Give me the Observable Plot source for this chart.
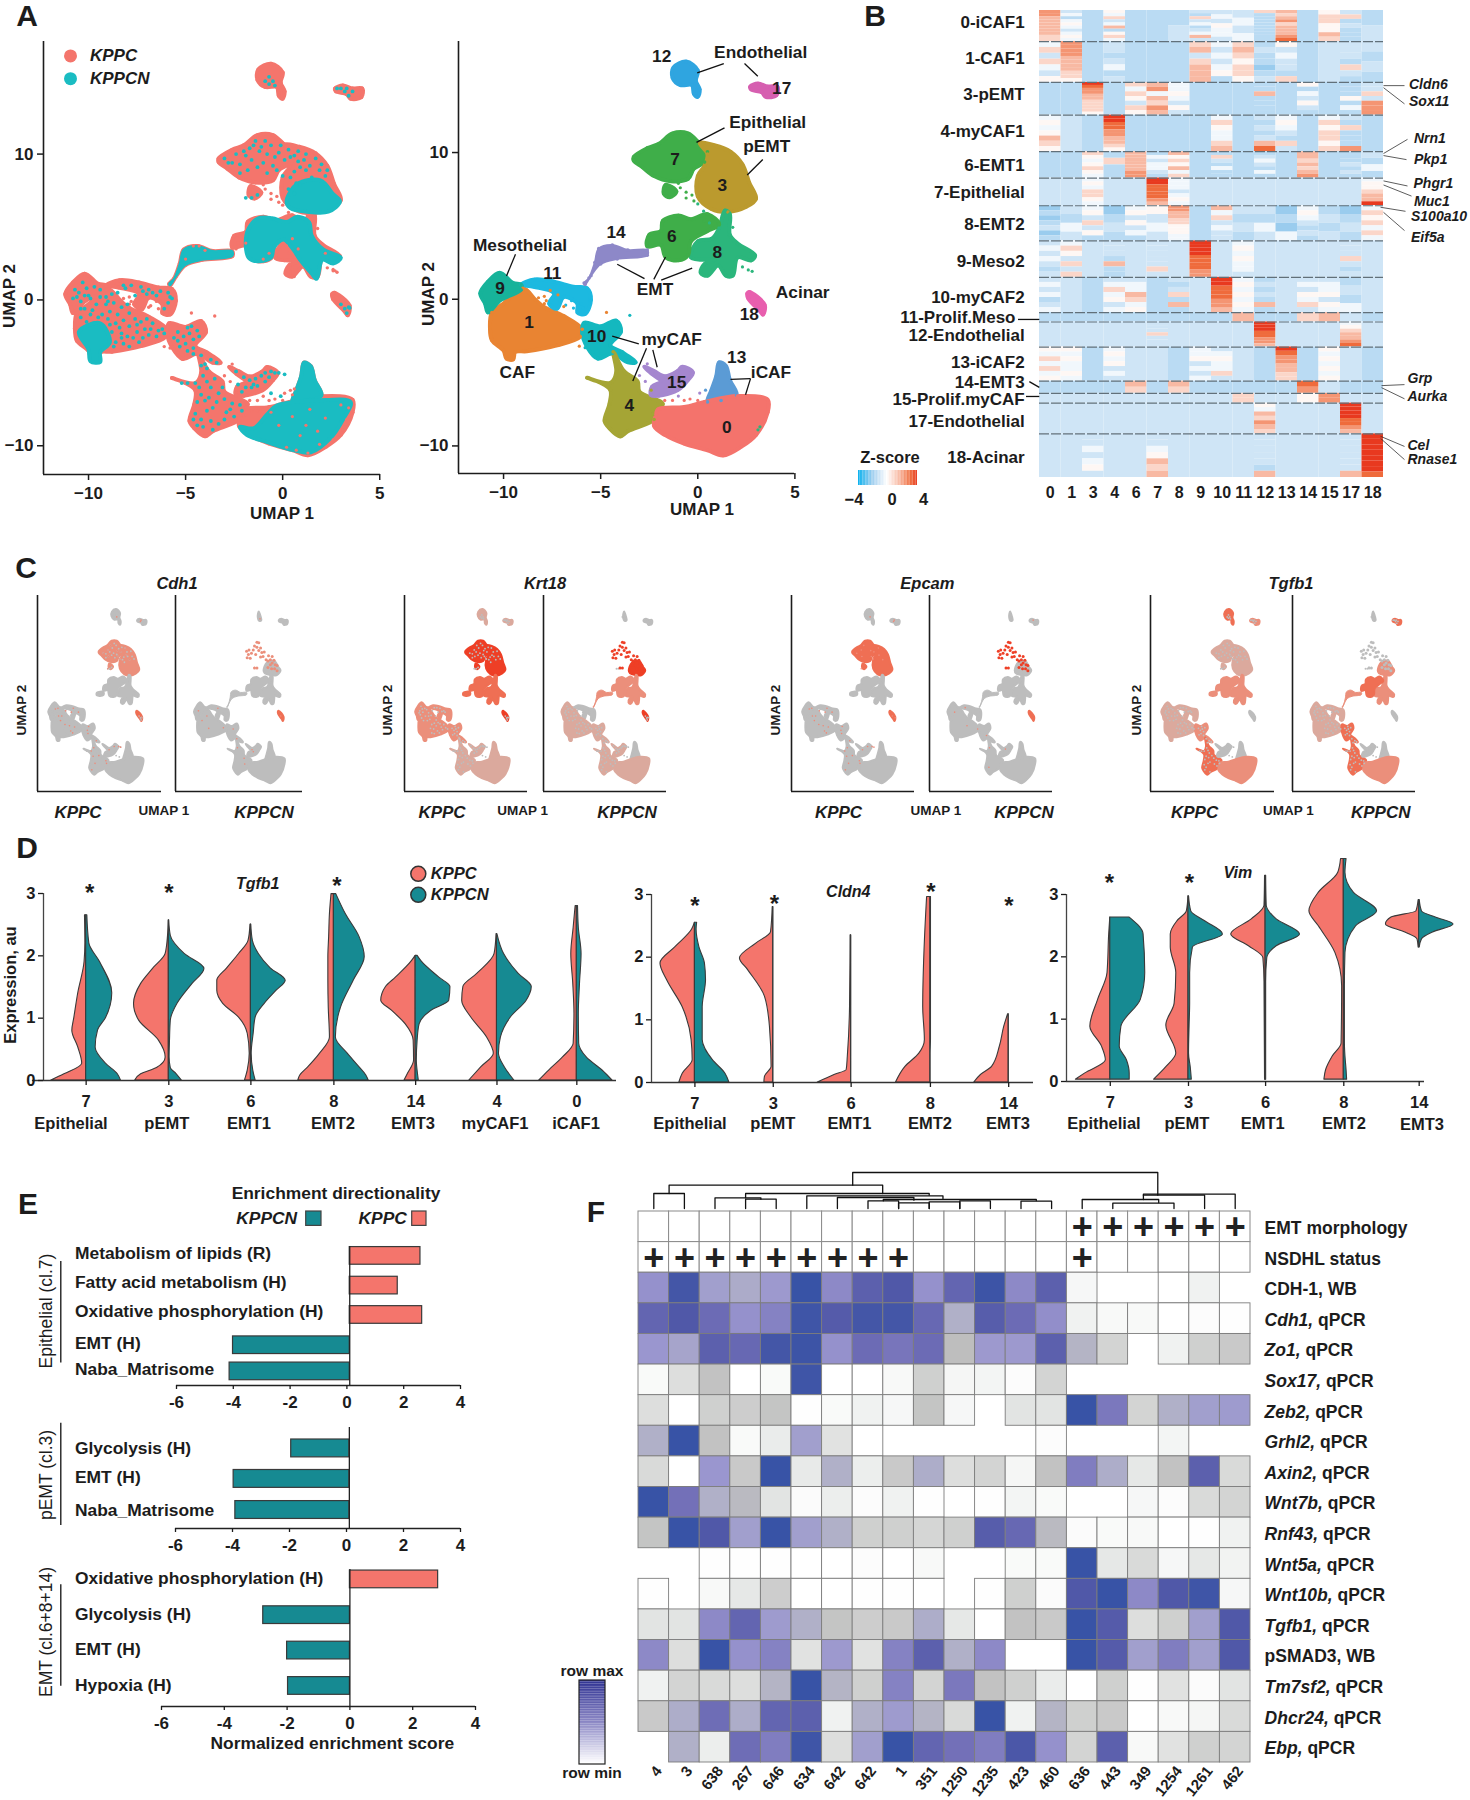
<!DOCTYPE html>
<html><head><meta charset="utf-8">
<script src="https://cdn.jsdelivr.net/npm/d3@7"></script>
<script src="https://cdn.jsdelivr.net/npm/@observablehq/plot@0.6"></script>
<style>
html,body{margin:0;padding:0;background:#fff}
#root{position:relative;width:1470px;height:1800px;overflow:hidden;font-family:"Liberation Sans",Arial,sans-serif;color:#1c1c1c}
#root svg{position:absolute;overflow:visible;background:transparent}
.t{position:absolute;white-space:nowrap;line-height:1}
</style></head><body><div id="root"></div>
<script>
// ---------- UMAP cluster outlines, in UMAP 1 / UMAP 2 units ----------
const umap0=[[-2.05,-7.5],[-.7,-7.35],[.35,-7],[2.05,-6.6],[3.6,-6.85],[3.6,-7.7],[3,-9.25],[2.25,-10.05],[1.3,-10.65],[.5,-10.3],[-.7,-9.85],[-1.7,-9.25],[-2.25,-8.65],[-2.15,-7.85]];
const umap1=[[-9,.75],[-8.35,-.05],[-7.9,-.55],[-6.9,-1.15],[-5.95,-2.05],[-6.05,-2.55],[-7.25,-3.15],[-8.8,-3.55],[-9.4,-3.6],[-9.5,-4.1],[-9.85,-4.05],[-10,-3.5],[-10.6,-2.8],[-10.7,-1.95],[-10.6,-.9],[-10,-.3]];
const umap3=[[.1,10.65],[.85,10.5],[1.7,10.05],[2.3,9.2],[2.65,7.95],[3,6.85],[2.5,6.3],[1.55,5.95],[.7,6.15],[0,7],[0,8.4],[.35,9.1],[.5,9.9]];
const umap3b=[[.2,6.75],[.75,7.95],[1.95,8.2],[2.6,7.25],[2.95,6.75],[2.35,6.05],[1.25,6.05],[.4,6.3]];
const umap4=[[-5.7,-5.35],[-4.5,-5.7],[-4.2,-5],[-4.35,-3.6],[-3.8,-4.9],[-3.1,-5.6],[-3,-6.3],[-1.8,-7.15],[-2.3,-7.85],[-2.25,-8.2],[-3.6,-9],[-4,-9.35],[-4.55,-8.8],[-4.8,-8.3],[-4.55,-7.15],[-4.5,-6.2],[-5,-5.7]];
const umap6=[[-1,5.7],[-.35,5.45],[.5,5.8],[1.1,5.1],[.5,4.65],[-.35,3.95],[-.5,3],[-1,2.65],[-1.65,2.85],[-1.9,3.7],[-2.6,3.6],[-2.5,4.4],[-1.9,4.65],[-1.8,5.35]];
const umap7=[[-3.3,9.7],[-2.6,10.3],[-2,10.6],[-1.3,11.3],[-.5,11.3],[0,10.75],[.5,10.05],[.35,9.35],[-.2,8.9],[-.5,8.2],[-1.4,8.05],[-2.25,8.4],[-2.85,9],[-3.3,9.45]];
const umap7b=[[-1.65,7.8],[-1.1,7.35],[-1.45,6.95],[-1.75,7.2]];
const umap8=[[1.4,6.05],[1.65,5.8],[1.65,4.4],[2.05,3.8],[2.95,3],[2.75,2.65],[2.05,2.85],[1.8,1.6],[1.45,1.6],[1.05,2.3],[.5,1.6],[.15,1.8],[.35,2.4],[.85,2.65],[-.35,2.85],[0,3.95],[.75,4.15],[1.1,4.85]];
const umap9=[[-10.2,1.8],[-9.5,1.1],[-9.1,1],[-9.1,.65],[-10.15,-.05],[-10.8,-.9],[-10.95,-.3],[-11.2,.4],[-10.8,1.2]];
const umap10=[[-5.85,-1.6],[-5,-1.85],[-4.2,-1.45],[-3.95,-2.2],[-4.5,-3.15],[-3.9,-3.6],[-3.2,-4.3],[-3.6,-4.3],[-4.4,-3.7],[-5.15,-4.05],[-5.7,-3.25],[-5.95,-2.3]];
const umap11=[[-9.1,1],[-8.4,1.35],[-7.4,1.2],[-6.4,.85],[-5.7,.75],[-5.5,-.05],[-5.8,-1],[-6.2,-.9],[-6.2,-.3],[-6.9,.15],[-7.25,-.65],[-7.65,-.3],[-7.4,.4],[-8.45,.85]];
const umap12=[[-.6,16.2],[0,15.6],[-.1,14.9],[.1,14.3],[0,13.8],[-.2,14],[-.3,14.6],[-.9,14.6],[-1.3,15.1],[-1.25,15.8]];
const umap12s=[[-.6,15.8],[-.3,15],[-.2,14.5],[-.5,14.4],[-.75,15]];
const umap13=[[1.1,-4.3],[1.45,-4.55],[1.65,-5.5],[2,-6.55],[1.2,-6.9],[.5,-7],[.7,-6.2],[.95,-5.25]];
const umap14=[[-5.85,1.1],[-5.6,1.45],[-5.3,2.5],[-5.1,3.45],[-4.4,3.7],[-3.6,3.35],[-2.6,3.35],[-2.6,3],[-4.15,2.75],[-5,2.4],[-5.5,1.6],[-5.8,1]];
const umap14s=[[-3.6,3.3],[-2.6,3.4],[-2.6,2.95],[-3.6,2.9]];
const umap15=[[-2.75,-4.6],[-2.25,-4.9],[-1.7,-5.25],[-1.05,-4.9],[-.8,-4.6],[-.25,-5],[-.5,-5.5],[-1.05,-6.2],[-2.4,-6.55],[-2.35,-5.95],[-1.9,-5.6],[-2.35,-5.1]];
const umap17=[[2.7,14.5],[3.1,14.7],[3.6,14.5],[4.1,14.5],[4.05,13.9],[3.5,13.8],[3.3,14.1],[2.75,14.3]];
const umap18=[[2.55,.4],[2.65,.5],[3.45,-.4],[3.35,-1.05],[3.2,-.8],[2.6,.05]];
// KPPCN-rich regions in the left UMAP
const tealBlock6=[[-1.75,4.9],[-1.25,5.6],[-.55,5.6],[.2,5.35],[.75,5.7],[1.35,5.35],[1.5,4.4],[2.1,3.45],[3,2.9],[2.6,2.5],[2.05,2.75],[1.75,1.45],[1.5,1.8],[.9,2.75],[.55,3.45],[.05,4.15],[-.45,3.6],[-.6,2.9],[-1.3,2.65],[-1.75,2.9],[-1.9,3.95]];
const tealBlock0=[[-.3,-7.25],[1.75,-6.9],[3.5,-7],[3.15,-8.1],[2.45,-9.5],[1.45,-10.45],[.55,-10.3],[-.8,-9.75],[-1.85,-9.25],[-2.2,-8.7],[-1.5,-8.8],[-.8,-7.85]];
const tealBlock1=[[-10.5,-2.2],[-9.4,-1.6],[-8.9,-2.9],[-9.4,-3.6],[-9.4,-4.25],[-9.9,-4.2],[-10,-3.4]];
// individual cells
const tealCells=[[-1.5,10.6],[-1.2,10.2],[-1.6,9.6],[-1.9,9.9],[-1,9.4],[-.6,10.6],[-.4,9.8],[-.9,10.9],[-.2,10.1],[.1,9.6],[.3,10.3],[.6,8.8],[.9,9.1],[1.2,8.9],[-2.2,8.7],[-1.8,8.9],[-1.3,9.1],[-.8,8.7],[-.3,8.9],[.4,8.4],[.7,8],[1.5,8.4],[1.9,8.9],[2.2,8.5],[-2.6,9.4],[-2.2,9.3],[-.5,9.2],[0,8.5],[1.1,9.6],[1.7,9.7],[.8,10.2],[-1.3,7.2],[-1.6,7],[-1.9,7],
[-.9,15],[-.7,14.8],[-.5,15],[-.7,15.3],[-.4,14.7],[3.2,14.3],[3.4,14],[3.6,14.3],[3.3,14.5],[2.8,14.5],[3,14.5],[3,-.3],[3.2,-.6],[3.4,-.5],[3.45,-.55],[3.3,-.9],
[-10.3,1.2],[-10.1,.8],[-10.5,.5],[-10,.3],[-9.7,.9],[-9.4,.7],[-9.1,.2],[-9.6,-.3],[-10.2,-.6],[-9.9,-1],[-9.3,-1],[-8.9,-.8],[-8.7,-.2],[-8.5,.5],[-8.2,1],[-7.8,1],[-7.3,.9],[-7,.4],[-6.7,.5],[-6.5,.3],[-7.9,-.9],[-8.2,-1.4],[-8.6,-1.6],[-8.8,-2.2],[-8.3,-2.3],[-7.9,-1.8],[-7.6,-1.3],[-7.3,-1.5],[-7.1,-2],[-6.7,-1.6],[-6.4,-2.1],[-7.7,-2.6],[-8.2,-3],[-8.6,-2.9],[-7.4,-2.9],[-6.9,-2.4],[-6.1,-2.3],[-9.1,-.3],[-10.4,-.1],[-10.6,.2],[-7.6,.3],[-8,-.3],
[-5.4,-2.2],[-5.1,-2.5],[-4.8,-2.3],[-4.6,-2.7],[-5,-3],[-4.6,-3.3],[-4.4,-2.1],[-4.9,-1.9],[-5.3,-3.2],[-4.2,-3.8],[-3.7,-4.1],[-3.4,-4.3],[-4,-4.4],
[-4.5,-5.7],[-4.9,-5.7],[-5.2,-5.7],[-4.1,-5.2],[-3.9,-5.6],[-3.7,-6],[-4.2,-6.5],[-4.4,-7],[-3.8,-6.7],[-3.3,-6.4],[-3,-6.8],[-2.6,-7.1],[-2.2,-7.2],[-4.5,-7.8],[-4.2,-8.2],[-3.9,-7.6],[-3.6,-7.4],[-2.9,-7.7],[-4.4,-8.6],[-3.6,-8.9],[-2.5,-8],[-2.1,-7.6],
[-2.4,-4.9],[-2,-5.3],[-1.7,-5.5],[-1.4,-5.4],[-1.1,-5.2],[-.9,-5],[-.6,-4.9],[-.4,-5],[-.2,-5],[-1.5,-5.8],[-1.9,-6],[.1,-5.1],[-.6,-6.4],[-.1,-6.6]];
const moreTealCells=[[-3,9.7],[-2.8,9.4],[-2.4,10],[-2,10.2],[-1.7,10.4],[-1.4,10.9],[-1.1,10.5],[-.8,10],[-.1,10.6],[.4,9.8],[.8,9.5],[1.4,9.2],[2,9.3],[2.3,8.9],[1.2,10],[.6,9.9],[.3,7.6],[.6,7.3],[.9,7.9],
[-10.4,-1.2],[-10.1,-1.5],[-9.7,-1.6],[-9.5,-1.2],[-9,-1.3],[-8.5,-1],[-8.3,-.5],[-8.9,-1.7],[-8.4,-1.9],[-8,-2.5],[-7.5,-2.2],[-7.2,-2.6],[-6.8,-2],[-6.5,-2.5],[-6.2,-2],[-7,-1.3],[-7.5,-1.7],[-8.7,-3.2],[-7.9,-3.2],[-8.3,-2.6],[-9,-.1],[-9.4,.2],[-9.9,.1],[-10.2,.3],[-10.7,.7],[-10.8,.1],[-10.4,-.6],[-9.8,-.7],[-8.8,.4],[-8.1,.8],[-7.2,.6],[-6.9,.7],[-6.3,.6],[-5.9,.5],[-5.8,.2],[-5.7,.1],[-5.9,-.2],[-6.1,-.6],
[-5.6,-2.6],[-5.4,-2.8],[-4.7,-1.8],[-4.3,-2.5],[-4.6,-3.7],[-4.9,-3.5],[-4.3,-6],[-4,-6.9],[-4.6,-8.2],[-4.1,-8.7],[-3.7,-8.3],[-3.3,-8.5],[-3,-8.2],[-2.7,-7.5],[-3.4,-7],[-3.1,-6],[-3.5,-5.4],[-3.9,-4.7],[-4.2,-4.5],[-2.3,-5.8],[-2.1,-6.3],[-1.6,-6],[-1.3,-5.9],[-.9,-5.6],[-.7,-5.3]];
const coralCells=[[-2.3,3.9],[-2.2,4.4],[-1.9,3.9],[-2.4,3.5],[-.7,3.2],[-1,2.8],[-.3,3.3],[.2,3.7],[.5,4.2],[.3,3.2],[.8,3.5],[.1,2.7],[.4,1.9],[.6,1.6],[.5,2.1],[2.2,3.2],[2.7,2],[2.6,2.1],
[2.9,-9.2],[3.1,-8.9],[3.3,-8.2],[3.4,-7.4],[2.6,-9.6],[1.9,-9.9],[1.3,-10.5],[.7,-10.3],[.2,-10.1],[.5,-8],[1.2,-8.6],[1.8,-9],[-.2,-8.6],[.9,-9.3],[2.2,-8.1],[-.6,-7.7],[-1,-7.5],[-1.3,-7.6],[-1.6,-7.6],[-1.9,-7.9],[3,-7.2],[1.4,-7.5],
[-4.6,3.7],[-4.3,3.7],[-4,3.4],[-5,2.8],[.6,-6.1],[.5,-6.5]];
// scattered cells around clusters: [UMAP 1, UMAP 2, cluster]
const strayCells=[[-3,-5.2,15],[-2.7,-5.6,15],[-2.4,-6.2,4],[-2,-6.6,15],[-1.7,-6.9,0],[-1.3,-6.9,0],[-1,-6.6,15],[-.7,-6.9,0],[-.4,-6.8,0],[0,-6.9,0],[.1,-6.4,15],[.4,-6.2,13],[-2.6,-4.4,15],
[-.9,7.6,7],[-.6,7.3,7],[-.3,7.1,7],[-.6,6.9,7],[0,6.5,8],[.3,6,8],[-.2,6.7,7],[-1,7.9,7],[2.3,2.2,8],[2.6,2,8],[2.8,1.9,8],[1.8,4.9,8],[.6,5.2,8],
[-6.4,-.6,11],[-6.8,-.4,11],[-6.5,-.1,11],[-5.9,-.6,11],[-6,-.3,11],[-8.3,.9,11],[-7.9,.2,1],[-7.8,-.1,1],[-7.6,.6,1],[-8.2,.1,1],[-7.2,.3,1],[-6.9,-.5,1],[-7.9,-.3,1],
[-5.8,-3.3,10],[-5.4,-3.6,10],[-5,-3.7,10],[-4.7,-.9,1],[-3.5,-1.1,10],[-6.1,-3.2,1],[3.2,-8.7,8],[3.1,-8.9,8],[.3,5.3,6]];
const sparseEpiCells=[[-2.6,9.7],[-2.3,9.2],[-2.2,9.9],[-2.5,8.7],[-2,8.6],[-1.8,9.4],[-1.5,9.9],[-1.3,10.5],[-.9,11.1],[-.6,11],[-.9,10.3],[-.6,9.8],[-.3,10.2],[-.1,9.5],[-1.1,9.2],[-.3,8.8],[.1,8.9],[.3,9.6],[.6,8.4],[.9,8.2],[1,9],[1.3,8.4],[1.6,8.9],[1.6,7.9],[1.9,8.3],[2.1,7.6],[1.3,7.6],[.9,7.2],[1.5,7],[2,7],[2.4,6.7],[2.4,7.5],[-1.3,7.1],[-.9,7.1]];
const outlines={0:umap0,1:umap1,3:umap3,"3b":umap3b,4:umap4,6:umap6,7:umap7,"7b":umap7b,8:umap8,9:umap9,10:umap10,11:umap11,12:umap12,"12s":umap12s,13:umap13,14:umap14,"14s":umap14s,15:umap15,17:umap17,18:umap18};
const clusterColors={0:"#f4736c",1:"#e98432",3:"#bb9a2e",4:"#a5a535",6:"#3fae49",7:"#3fae49","7b":"#3fae49",8:"#2bb67c",9:"#17b39a",10:"#14b8bf",11:"#1cb9e0",12:"#2fa5e0",13:"#5b9bd5",14:"#8d88c8",15:"#a587cf",17:"#d65fb0",18:"#e85fae"};
const clusterOrder=["12","17","7","7b","3","8","6","14","1","11","9","10","4","15","13","0","18"];

// ---------- Panel B: z-score table, blocks x columns ----------
const heatCols=["0","1","3","4","6","7","8","9","10","11","12","13","14","15","17","18"];
const heatBlockNames=["0-iCAF1","1-CAF1","3-pEMT","4-myCAF1","6-EMT1","7-Epithelial","8-EMT2","9-Meso2","10-myCAF2","11-Prolif.Meso","12-Endothelial","13-iCAF2","14-EMT3","15-Prolif.myCAF","17-Endothelial","18-Acinar"];
const heatBlockSizes=[30.7,40.3,32.3,36,26,27.3,34.7,36,34.7,9.3,24.7,33.7,12,9.7,30.3,43];
// each string holds strip levels from the block's top to bottom
const heatLevels=[
["7766666655","2313432343","1","4352361453","1","1","12","2152312362","2324332","2323","5111111111","6567566678","1","4554465","2512111","12"],
["3525324","77776666554","1","2212312","1","1","1","5625666","3232341","5654554","1211012","4232215","1","2","2221521","2121"],
["1","1","98776655554","1","5354254","6736576","3343242","1","1","1","1161111","1","4132421","1","1114131","2252777"],
["3434654","2","1","9988776654","1","1","1","1","3543356","1","2121268","3432152","1","3545545","2151117","1"],
["1","1","5434543","1511","66666677","1323321","6454635","1","1521311","1","1232131","1","6656567","1","1112121","2131"],
["2","2","3435543","2","2","99888876","3332343","2","2","2","2","2","2","2","2","3445669"],
["0101201","2132","3425241","0121","3424231","4232","77665544433","1","6352322","2121","2132","0103","3432121","1212","0121","3545353"],
["2323212","3542525","2","2221611","2","2222252","2","9999888877","2","3434332","2","2","2","2","2225212","2"],
["2323123","2","1","2353423","2336534","1","2125161","2","99888776","3434343","1212161","2","2324352","2334243","1213","2"],
["1","1","1","1","1","1","1","1","1","6","1","1","5","6","2","1"],
["2","2","2","2","2","2225222","2","2","2","2","99988776","2","2","2","3456678","2"],
["4353534","4343343","1","3434232","2","2","1","3342323","2343352","2","1","98776655","1","4343434","2","1"],
["1","1","1","1","65","1","65","1","1","1","1","1","87","2","1","1"],
["2","2","2","2","2","2","2","2","2","55","2","2","4","77","2","2"],
["2","2","2","2","2","2","2","2","2","2","4365765","2","2","2","99998876","2"],
["2","2","2232342","2","2","2234656","2","2","2","2","2222216","2","2","2","2222226","99999998"]];
const levelZ=[-2.2,-1.6,-1.2,-.5,0,.8,1.5,2.2,3,4];

// ---------- Panel D: violins; rows are [expression, KPPC density, KPPCN density] ----------
const tgfb1Slots=[0,1,1.993,2.997,3.986,4.97,5.936];
const tgfb1Numbers=["7","3","6","8","14","4","0"];
const tgfb1Violins=[
[[2.65,3,3],[2.2,2,8],[1.9,4,35],[1.4,20,66],[1,30,50],[.8,35,30],[.53,20,24],[.27,10,50],[.1,55,80],[0,88,88]],
[[2.57,0,1],[2.32,2,5],[2.03,8,40],[1.79,40,90],[1.55,70,60],[1.23,88,22],[.96,75,5],[.64,25,3],[.37,8,2],[.2,30,5],[.1,70,20],[0,85,33]],
[[2.5,1,1],[2.24,6,5],[2.03,30,20],[1.8,60,50],[1.6,85,88],[1.44,85,65],[1.23,70,35],[1.01,30,12],[.75,8,7],[.43,3,2],[.16,8,6],[0,15,12]],
[[2.99,6,6],[2.67,10,30],[2.3,12,65],[1.98,14,78],[1.6,14,50],[1.17,13,18],[.69,10,5],[.43,35,35],[.21,65,65],[.08,85,82],[0,90,88]],
[[2,0,5],[1.91,10,15],[1.65,50,60],[1.5,75,88],[1.28,87,85],[1.12,60,40],[.9,25,10],[.64,5,5],[.32,4,3],[.1,20,6],[0,28,8]],
[[2.35,1,1],[2.03,6,18],[1.71,50,55],[1.5,85,88],[1.28,88,75],[1.01,65,35],[.69,25,10],[.43,8,5],[.21,40,20],[0,70,44]],
[[2.8,3,3],[2.45,8,5],[2.03,14,12],[1.55,9,8],[1.07,6,5],[.59,8,6],[.37,35,25],[.16,70,65],[0,95,90]]];
const cldn4Slots=[0,.998,1.99,3,3.997];
const cldn4Numbers=["7","3","6","8","14"];
const cldn4Violins=[
[[2.55,0,4],[2.44,5,3],[2.16,35,8],[1.9,62,18],[1.63,50,20],[1.2,22,14],[.68,6,14],[.36,4,32],[.14,22,55],[0,28,62]],
[[2.8,1,0],[2.4,4,0],[2.22,30,0],[1.98,60,0],[1.79,45,0],[1.37,15,0],[.89,6,0],[.25,3,0],[.09,15,0],[0,16,0]],
[[2.35,1,0],[1.2,2,0],[.41,6,0],[.2,8,0],[.12,30,0],[0,60,0]],
[[2.96,6,1],[2.25,10,1],[1.2,13,1],[.68,10,1],[.46,20,0],[.25,45,0],[0,62,0]],
[[1.09,1,0],[.89,8,0],[.57,16,0],[.25,30,0],[.12,50,0],[0,62,0]]];
const vimSlots=[0,1,1.986,2.986,3.95];
const vimNumbers=["7","3","6","8","14"];
const vimViolins=[
[[2.63,0,35],[2.36,2,60],[1.74,5,63],[1.31,22,55],[.88,36,20],[.56,15,17],[.34,8,30],[.13,45,35],[.03,62,35]],
[[2.97,0,1],[2.73,3,5],[2.57,20,30],[2.36,32,62],[2.15,32,8],[1.74,22,3],[1.25,25,3],[.9,40,2],[.45,22,1],[.23,40,4],[.03,62,6]],
[[3.3,1,1],[2.82,2,2],[2.6,25,20],[2.36,62,62],[2.17,30,20],[1.98,4,3],[1.6,2,1],[.03,1,1]],
[[3.57,5,5],[3.35,10,3],[3.03,45,18],[2.73,62,60],[2.49,45,22],[2.06,15,3],[1.53,3,2],[.61,4,2],[.4,20,3],[.18,32,5],[.03,35,6]],
[[2.91,1,1],[2.73,5,5],[2.63,50,30],[2.52,60,62],[2.39,25,25],[2.28,3,5],[2.15,1,1]]];

// ---------- Panel E ----------
const epithelialTerms=["Metabolism of lipids (R)","Fatty acid metabolism (H)","Oxidative phosphorylation (H)","EMT (H)","Naba_Matrisome"];
const epithelialNES=[2.59,1.79,2.65,-4.01,-4.13];
const epithelialRows=[0,1.01,2.01,3.04,3.93];
const pemtTerms=["Glycolysis (H)","EMT (H)","Naba_Matrisome"];
const pemtNES=[-1.94,-3.96,-3.9];
const pemtRows=[0,.99,2];
const emtTerms=["Oxidative phosphorylation (H)","Glycolysis (H)","EMT (H)","Hypoxia (H)"];
const emtNES=[2.81,-2.76,-2,-1.97];
const emtRows=[0,1.01,2.01,3.01];

// ---------- Panel F ----------
const sampleIds=["4","3","638","267","646","634","642","642","1","351","1250","1235","423","460","636","443","349","1254","1261","462"];
const emtMorphology=[15,16,17,18,19,20];
const nsdhlStatus=[1,2,3,4,5,6,7,8,9,15];
const rowLabels=["EMT morphology","NSDHL status","CDH-1, WB","<i>Cdh1,</i> qPCR","<i>Zo1,</i> qPCR","<i>Sox17,</i> qPCR","<i>Zeb2,</i> qPCR","<i>Grhl2,</i> qPCR","<i>Axin2,</i> qPCR","<i>Wnt7b,</i> qPCR","<i>Rnf43,</i> qPCR","<i>Wnt5a,</i> qPCR","<i>Wnt10b,</i> qPCR","<i>Tgfb1,</i> qPCR","pSMAD3, WB","<i>Tm7sf2,</i> qPCR","<i>Dhcr24,</i> qPCR","<i>Ebp,</i> qPCR"];
const _=null;
const cdh1WB=[.62,.95,.55,.48,.58,1,.65,.85,.9,.62,.82,.98,.65,.85,.06,_,_,0,.1,_];
const cdh1=[.82,.9,.78,.62,.68,.97,.88,.95,.95,.8,.45,.87,.78,.63,.1,.05,.05,0,.02,.01];
const zo1=[.6,.52,.85,.8,.95,.98,.62,.78,.73,.78,.35,.58,.58,.85,.42,.25,_,.1,.27,.3];
const sox17=[.04,.2,.33,0,.04,.97,0,0,.05,.27,.07,.08,.02,.25,_,_,_,_,_,_];
const zeb2=[.2,0,.27,.28,.32,.01,.04,.1,.06,.32,.06,_,.17,.17,1,.72,.25,.45,.55,.57];
const grhl2=[.45,1,.33,.04,.13,.55,.18,0,_,_,_,_,_,.02,_,_,_,.08,_,_];
const axin2=[.22,0,.6,.3,1,.14,.45,.12,.3,.47,.2,.25,.07,.33,.7,.47,.15,.33,.85,.22];
const wnt7b=[1,.75,.45,.38,.17,.03,.12,.02,.1,.01,_,.01,.08,.04,_,_,.06,.02,.22,.25];
const rnf43=[.32,1,.9,.55,1,.55,.45,.27,.27,.24,.27,.87,.8,.38,.03,.04,.05,0,.01,.1];
const wnt5a=[_,_,.01,.01,.01,0,0,.02,0,.05,_,_,.04,.04,1,.15,.22,.06,.15,.09];
const wnt10b=[.01,_,.05,.15,.28,0,0,.01,.01,0,_,.01,.27,.03,.9,1,.65,.9,.97,.06];
const tgfb1=[.17,.17,.65,.82,.57,.45,.32,.28,.3,.47,.15,0,.33,.3,1,.88,.2,.27,.55,.9];
const psmad3=[.65,.2,1,.62,.68,.18,.58,.18,.68,.85,.45,.65,_,_,1,.88,.55,.7,.55,.9];
const tm7sf2=[.1,.25,.22,.2,.42,1,.42,.27,.68,.25,.72,.33,.27,.13,0,.27,.01,.18,.03,.17];
const dhcr24=[.3,.47,.77,.47,.82,.85,.1,.45,.57,.42,.22,1,.1,.42,.27,.3,0,.05,.07,.22];
const ebp=[_,.45,.12,.77,.7,.97,.2,.55,1,.82,.75,.7,.92,.62,.25,.85,.05,.18,.27,.25];
const expressionRows=[cdh1WB,cdh1,zo1,sox17,zeb2,grhl2,axin2,wnt7b,rnf43,wnt5a,wnt10b,tgfb1,psmad3,tm7sf2,dhcr24,ebp];
// dendrogram merges: [left column, right column, merge height, left height, right height]
const merges=[[1,2,15,0,0],[1.5,8.48,23.3,15,15],[7.5,17.47,36,23.3,13.3],[3,4.5,10.7,0,9.3],[4,5,9.3,0,0],[4,10,15,10.7,13.3],[6,10.45,12.7,0,10],[7,9.5,11,0,8.3],[8,9,7.7,0,0],[9,10,5.7,0,0],[8.5,13.5,9,7.7,8],[10,11,6.7,0,0],[11,12,7.7,0,0],[13,14,7.3,0,0],[15,17.5,9,0,6],[16,18,5.3,0,0],[17,19,13.3,9,0],[17,20,14.3,13.3,0]];

// ---------- helpers ----------
const FONT='"Liberation Sans",Arial,sans-serif';
const root=document.getElementById("root");
const CORAL="#f4756c",TEAL="#168a92",UTEAL="#1abcc2";
function chart([x0,y0,x1,y1],[l,t,r,b],opts){
  const el=Plot.plot({width:Math.round(x1-x0+l+r),height:Math.round(y1-y0+t+b),marginLeft:l,marginTop:t,marginRight:r,marginBottom:b,
    style:{fontFamily:FONT,overflow:"visible",background:"transparent",color:"#1c1c1c"},...opts});
  el.style.left=(x0-l)+"px";el.style.top=(y0-t)+"px";root.append(el);return el;
}
function L(x,y,html,{s=16,w="bold",a="m",r=0,c}={}){
  const d=document.createElement("div");d.className="t";d.innerHTML=html;
  const tx=a==="m"?"-50%":a==="e"?"-100%":"0";
  d.style.cssText=`left:${x}px;top:${y}px;font-size:${s}px;font-weight:${w};transform:translate(${tx},-50%)${r?` rotate(${r}deg)`:""};${c?`color:${c};`:""}`;
  root.append(d);
}
const poly=(pts,c,extra={})=>Plot.line(pts,{x:d=>d[0],y:d=>d[1],fill:c,stroke:c,strokeWidth:4,curve:"catmull-rom-closed",...extra});
const cells=(pts,c,r=1.6)=>Plot.dot(pts,{x:d=>d[0],y:d=>d[1],fill:c,r});
const minus=d=>String(d).replace("-","−");
const umapAxes=(xd,yd)=>[
  Plot.ruleX([xd[0]],{strokeWidth:1.6}),Plot.ruleY([yd[1]],{strokeWidth:1.6}),
  Plot.axisX({ticks:[-10,-5,0,5],tickFormat:minus,label:null,fontSize:17,fontWeight:"bold",tickSize:6,tickPadding:6,strokeWidth:1.5}),
  Plot.axisY({ticks:[-10,0,10],tickFormat:minus,label:null,fontSize:17,fontWeight:"bold",tickSize:6,tickPadding:4,strokeWidth:1.5})];

// ---------- A left ----------
{const xd=[-12.32,5.04],yd=[17.72,-11.97];
 chart([43.3,40.6,380,473.5],[40,6,10,40],{x:{domain:xd},y:{domain:[yd[1],yd[0]]},marks:[
   ...clusterOrder.map(k=>poly(outlines[k],CORAL)),
   ...clusterOrder.map(k=>cells(outlines[k],CORAL,2)),
   cells(strayCells,CORAL,1.7),
   poly(umap3b,UTEAL),poly(tealBlock6,UTEAL),poly(umap14,UTEAL,{strokeWidth:2}),poly(umap13,UTEAL),poly(tealBlock0,UTEAL),poly(tealBlock1,UTEAL),
   cells(tealCells,UTEAL,1.9),cells(moreTealCells,UTEAL,1.9),cells(coralCells,CORAL,1.6),
   ...umapAxes(xd,[yd[0],yd[1]])]});
}
// ---------- A right ----------
{const xd=[-12.32,4.98],yd=[17.57,-11.88];
 chart([457.7,40.6,793.3,472.4],[40,6,10,40],{x:{domain:xd},y:{domain:[yd[1],yd[0]]},marks:[
   ...clusterOrder.map(k=>poly(outlines[k],clusterColors[k],k==="14"?{strokeWidth:2}:{})),
   ...clusterOrder.map(k=>cells(outlines[k],clusterColors[k],1.8)),
   Plot.dot(strayCells,{x:d=>d[0],y:d=>d[1],fill:d=>clusterColors[d[2]],r:1.6}),
   ...umapAxes(xd,[yd[0],yd[1]])]});
}
// ---------- B ----------
{const cellsB=[];let top=0;const boundaries=[];
 heatLevels.forEach((row,b)=>{const size=heatBlockSizes[b];
   row.forEach((str,c)=>{const n=str.length;[...str].forEach((ch,k)=>cellsB.push({c,y1:top+size*k/n,y2:top+size*(k+1)/n,z:levelZ[+ch]}));});
   top+=size;boundaries.push(top);});
 const colorB={type:"linear",domain:[-4,-2.2,-1.2,-.2,1.5,3,4],range:["#10b2ee","#9accee","#cfe5f6","#ffffff","#f8b9a3","#ef6b3c","#e8391f"],clamp:true};
 chart([1038.8,10.1,1382.6,477],[2,2,2,26],{x:{domain:[0,16]},y:{domain:[top,0],axis:null},color:colorB,marks:[
   Plot.rect(cellsB,{x1:d=>d.c,x2:d=>d.c+1,y1:"y1",y2:"y2",fill:"z"}),
   Plot.ruleY(boundaries.slice(0,-1),{stroke:"#61707a",strokeWidth:1.2,strokeDasharray:"10 2"}),
   Plot.axisX({ticks:heatCols.map((_,i)=>i+.5),tickFormat:(d,i)=>heatCols[i],label:null,tickSize:0,tickPadding:9,fontSize:16,fontWeight:"bold"})]});
 const ramp=d3.range(-4,4,.2);
 chart([858,469.6,917,484.8],[0,0,0,0],{x:{domain:[-4,4],axis:null},y:{axis:null,domain:[0,1]},color:colorB,marks:[
   Plot.rect(ramp,{x1:d=>d,x2:d=>d+.2,y1:0,y2:1,fill:d=>d})]});
}
// ---------- C ----------
const LV=["#bdbdbd","#dba99d","#eb8f7b","#ef6f54","#ee3f26"];
const KPPCids=["12","17","7","7b","3","8","6","14s","9","11","1","10","4","15","13","0","18"];
const KPPCNids=["12s","17","3b","8","6","14","9","11","1","10","4","15","13","0","18"];
const miniPanels=[
 {left:37.3,right:161.3,g:"KPPC",lv:{7:2,3:2,"7b":2,18:3},gs:1,rs:3},
 {left:175,right:302,g:"KPPCN",lv:{18:3},ep:2,rs:7},
 {left:404.2,right:527.4,g:"KPPC",lv:{7:4,3:4,"7b":4,6:3,8:3,"14s":3,18:4,12:1,17:1,9:2,11:2,1:2,10:2,4:1,15:1,13:1,0:1},gs:1},
 {left:543,right:666,g:"KPPCN",lv:{"3b":4,6:2,8:2,14:2,18:4,9:1,1:1,10:1,4:1,15:1,0:1},ep:4,gs:1},
 {left:790.9,right:914.1,g:"KPPC",lv:{7:3,3:3,"7b":3,18:3},rs:3},
 {left:929.4,right:1052.7,g:"KPPCN",lv:{18:3},ep:4,rs:11},
 {left:1149.9,right:1273.7,g:"KPPC",lv:{7:1,3:1,"7b":1,6:2,8:2,"14s":2,1:1,9:1,11:1,10:2,4:3,0:2,12:3,17:2},gs:1},
 {left:1292.3,right:1415.6,g:"KPPCN",lv:{"3b":2,6:3,14:2,8:2,9:1,1:1,11:1,10:3,4:3,0:2,17:3},ep:0,gs:1}];
for(const p of miniPanels){
  const xd=p.g==="KPPC"?[-12.9,6.5]:[-14.25,6.57],yd=[-11.94,18.3];
  const ids=p.g==="KPPC"?KPPCids:KPPCNids;
  const specks=p.g==="KPPC"?tealCells:tealCells.filter(d=>d[1]<7.9||d[1]>12);
  chart([p.left,595,p.right,791],[1,1,1,1],{x:{domain:xd,axis:null},y:{domain:yd,axis:null},marks:[
    ...ids.map(k=>poly(outlines[k],LV[p.lv[k]||0],{strokeWidth:k==="14"?1:2.2})),
    ...(p.gs?[cells(specks,"#bdbdbd",.9)]:[]),
    ...(p.rs?[cells(specks.filter((d,i)=>i%p.rs===0),"#ef8a78",.8)]:[]),
    ...(p.ep!=null?[cells(sparseEpiCells,LV[p.ep],1.5)]:[]),
    Plot.ruleX([xd[0]],{strokeWidth:1.6}),Plot.ruleY([yd[0]],{strokeWidth:1.6})]});
}
// ---------- D ----------
function violinChart(frame,pad,xd,slots,numbers,violins,k,xLeft){
  const left=[],right=[];
  violins.forEach((rows,i)=>rows.forEach(([v,a,b])=>{
    left.push({id:i,v,x1:slots[i],x2:slots[i]-a*k});right.push({id:i,v,x1:slots[i],x2:slots[i]+b*k});}));
  chart(frame,pad,{x:{domain:xd},y:{domain:[0,3]},marks:[
    Plot.areaX(left,{x1:"x1",x2:"x2",y:"v",z:"id",fill:CORAL,stroke:"#3a3a3a",strokeWidth:1.1,curve:"monotone-y"}),
    Plot.areaX(right,{x1:"x1",x2:"x2",y:"v",z:"id",fill:TEAL,stroke:"#3a3a3a",strokeWidth:1.1,curve:"monotone-y"}),
    Plot.ruleX([xd[0]],{y1:0,y2:3,strokeWidth:1.3,stroke:"#444"}),
    Plot.ruleY([0],{x1:xLeft,x2:xd[1],strokeWidth:1.5,stroke:"#333"}),
    Plot.axisX({ticks:slots,tickFormat:(d,i)=>numbers[i],label:null,tickSize:5,tickPadding:10,fontSize:16.5,fontWeight:"bold",strokeWidth:1.3}),
    Plot.axisY({ticks:[0,1,2,3],tickFormat:d=>String(d),label:null,tickSize:5,tickPadding:3,fontSize:16.5,fontWeight:"bold",strokeWidth:1.3})]});
}
violinChart([42.7,892.7,616,1080],[30,20,4,30],[-.516,6.416],tgfb1Slots,tgfb1Numbers,tgfb1Violins,1/209,-.65);
violinChart([651,894.3,1033,1082.3],[30,20,4,30],[-.553,4.313],cldn4Slots,cldn4Numbers,cldn4Violins,1/141.3,-.553);
violinChart([1065.6,894,1424,1081.3],[30,50,50,30],[-.56,4.018],vimSlots,vimNumbers,vimViolins,1/141,-.56);
// ---------- E ----------
function barChart(frame,pad,yd,terms,nes,rows,base,half){
  const t=nes.map((v,i)=>({term:terms[i],v,r:rows[i]}));
  chart(frame,pad,{x:{domain:[-6,4]},y:{domain:yd,axis:null},marks:[
    Plot.rect(t,{x1:base,x2:"v",y1:d=>d.r-half,y2:d=>d.r+half,fill:d=>d.v>0?CORAL:TEAL,stroke:"#3a3a3a",strokeWidth:1.2}),
    Plot.ruleX([base],{y1:yd[0],y2:yd[1],strokeWidth:1.3,stroke:"#222"}),
    Plot.ruleY([yd[0]],{strokeWidth:1.4,stroke:"#222"}),
    Plot.axisX({ticks:[-6,-4,-2,0,2,4],tickFormat:d=>String(d),label:null,tickSize:4,tickPadding:6,fontSize:17,fontWeight:"bold",strokeWidth:1.3})]});
}
barChart([175.7,1246.3,459.3,1384.9],[2,2,10,30],[4.41,-.32],epithelialTerms,epithelialNES,epithelialRows,.1,.3);
barChart([175.3,1427,460.3,1527.8],[2,2,10,30],[2.6,-.68],pemtTerms,pemtNES,pemtRows,.1,.29);
barChart([161,1568.8,475,1706.1],[2,2,10,30],[3.59,-.28],emtTerms,emtNES,emtRows,0,.25);
// ---------- F ----------
{const colorF={type:"linear",domain:[0,.1,.25,.35,.45,.6,.75,.9,1],range:["#ffffff","#f0f2f1","#d3d4d3","#bebebe","#b0b0c8","#9a96cf","#7370b8","#5058a8","#3853a6"]};
 const table=[];expressionRows.forEach((vals,r)=>vals.forEach((v,c)=>{if(v!==null)table.push({c,r:r+2,v});}));
 const annot=[];[0,1].forEach(r=>sampleIds.forEach((s,c)=>annot.push({c,r})));
 const plus=[...emtMorphology.map(c=>({c:c-1,r:0})),...nsdhlStatus.map(c=>({c:c-1,r:1}))];
 const rowIdx=d3.range(18);
 chart([638.4,1210.7,1250.6,1761.6],[2,2,2,34],{x:{domain:d3.range(20),padding:0,round:false,axis:null},y:{domain:rowIdx,padding:0,round:false,axis:null},color:colorF,marks:[
   Plot.cell(annot,{x:"c",y:"r",fill:"#fff",stroke:"#8a8a8a",strokeWidth:1}),
   Plot.cell(table,{x:"c",y:"r",fill:"v",stroke:"#7d7d7d",strokeWidth:.9}),
   Plot.text(plus,{x:"c",y:"r",text:()=>"+",fontSize:36,fontWeight:"bold",fill:"#222",dy:1}),
   Plot.text(sampleIds,{x:(d,i)=>i,y:()=>17,text:d=>d,rotate:-52,textAnchor:"end",dx:5,dy:21,fontSize:15,fontWeight:"bold"})]});
 const links=merges.flatMap(([a,b,h,ha,hb],i)=>[{i,c:a,h:ha},{i,c:a,h},{i,c:b,h},{i,c:b,h:hb}]);
 chart([638.4,1172.3,1250.6,1208.3],[2,2,2,1],{x:{domain:[.5,20.5],axis:null},y:{domain:[0,36],axis:null},marks:[
   Plot.line(links,{x:"c",y:"h",z:"i",stroke:"#111",strokeWidth:1.3})]});
 const rampF=d3.range(0,1,.02);
 chart([579,1680,604.7,1764],[1,1,1,1],{x:{axis:null,domain:[0,1]},y:{axis:null,domain:[0,1]},color:{type:"linear",domain:[0,.5,1],range:["#ffffff","#8a86c4","#2e3192"]},marks:[
   Plot.rect(rampF,{y1:d=>d,y2:d=>d+.02,x1:0,x2:1,fill:d=>d}),
   Plot.rect([0],{x1:0,x2:1,y1:0,y2:1,fill:"none",stroke:"#222",strokeWidth:1.2})]});
 rowLabels.forEach((t,i)=>L(1264.6,1210.7+30.6*(i+.5)+3,t,{s:17.5,a:"s"}));
 L(592,1671,"row max",{s:15.5});L(592,1773,"row min",{s:15.5});
}
// ---------- annotation lines ----------
const KA=1.033,KB=1.0135;
const leaders=[[696.7,70,723.3,61],[744,61,757.3,73.3],[724,123.3,696,137.3],[762.3,154,746.7,169],[515,245.7,506,266.7],[616.7,255.3,644,269.3],[665,248.3,653.3,270],[691.7,259,660.7,270.7],[611.7,325,638.3,332.3],[646,336.7,632.3,368.3],[652.3,338.3,656.7,355],[750,366,730,366.7],[750,366,745,381.7]].map(([a,b,c,d])=>[a,b*KA,c,d*KA]);
const blockLeaders=[[1017.5,314.7,1038.8,314.7],[1028.8,376,1038.8,381.7],[1025.5,390.7,1038.8,390.7]].map(([a,b,c,d])=>[a,b*KB,c,d*KB]);
const geneLeaders=[[1383,84,1404,84],[1383,86,1404,102],[1383,151,1407,137],[1383,153,1406,157],[1383,178,1407,183],[1383,182,1411,193],[1380,204,1405,208],[1383,209,1404,227],[1381,380,1404,379],[1381,382,1404,393],[1380,430,1404,440],[1380,432,1404,453]].map(([a,b,c,d])=>[a,b*KB,c,d*KB]);
const groupBars=[[60.3,1260.4,60.3,1362],[60.3,1422.2,60.3,1524.6],[60.3,1583.7,60.3,1685.3]];
const seg=(arr,stroke,strokeWidth)=>Plot.link(arr,{x1:d=>d[0],y1:d=>d[1],x2:d=>d[2],y2:d=>d[3],stroke,strokeWidth});
chart([0,0,1470,1800],[0,0,0,0],{x:{domain:[0,1470],axis:null},y:{domain:[1800,0],axis:null},marks:[
  seg(leaders,"#111",1.3),seg(blockLeaders,"#111",1.3),seg(geneLeaders,"#333",.8),seg(groupBars,"#111",1.3),
  Plot.dot([[70,55.4]],{x:d=>d[0],y:d=>d[1],r:6.5,fill:CORAL}),
  Plot.dot([[70,78.2]],{x:d=>d[0],y:d=>d[1],r:6.5,fill:UTEAL}),
  Plot.dot([[417.8,873.3]],{x:d=>d[0],y:d=>d[1],r:7.5,fill:CORAL,stroke:"#333"}),
  Plot.dot([[417.8,894.3]],{x:d=>d[0],y:d=>d[1],r:7.5,fill:TEAL,stroke:"#333"}),
  Plot.rect([[305.7,1211,321,1225.4]],{x1:d=>d[0],y1:d=>d[1],x2:d=>d[2],y2:d=>d[3],fill:TEAL,stroke:"#444",strokeWidth:1.2}),
  Plot.rect([[411.7,1211,426,1225.4]],{x1:d=>d[0],y1:d=>d[1],x2:d=>d[2],y2:d=>d[3],fill:CORAL,stroke:"#444",strokeWidth:1.2})]});
// ---------- text ----------
[["A",27,15.5],["B",875,16],["C",26,568],["D",27,848],["E",28,1204],["F",596,1212]].forEach(([t,x,y])=>L(x,y,t,{s:30,w:"bold"}));
L(90,55.4,"<i>KPPC</i>",{a:"s",s:17});L(90,78.2,"<i>KPPCN</i>",{a:"s",s:17});
L(9,296,"UMAP 2",{s:17,r:-90});L(282,513,"UMAP 1",{s:17});
L(428,294.4,"UMAP 2",{s:17,r:-90});L(702,509,"UMAP 1",{s:17});
[["12",661.7,55],["Endothelial",760.7,51],["17",781.7,86],["Epithelial",767.7,119],["pEMT",766.7,142.7],["7",675,155],["3",722.3,180],["14",616,225.7],["6",671.7,229],["8",717.3,245],["Mesothelial",520,238.3],["11",552.3,265],["9",500,280],["EMT",655,281],["Acinar",802.7,284],["18",749.3,305],["1",529,312.7],["10",596.7,326],["myCAF",671.7,329],["CAF",517.3,361],["13",736.7,346.7],["iCAF",771,361],["15",676.7,371],["4",629.3,393],["0",726.7,414.3]].forEach(([t,x,y])=>L(x,y*KA,t,{s:17.3}));
const blockY=[22,57,93,129,163,189,221,258,293,313,331,357,377,394,415,451];
heatBlockNames.forEach((t,i)=>L(i===9?1015.5:1024.7,blockY[i]*KB,t,{s:17,a:"e"}));
[["Cldn6",1409,83],["Sox11",1409,100],["Nrn1",1414,136],["Pkp1",1414,157],["Phgr1",1413.5,181],["Muc1",1414,198],["S100a10",1411,213],["Eif5a",1411,234],["Grp",1407.5,373],["Aurka",1407.5,391],["Cel",1407.5,439],["Rnase1",1407.5,453]].forEach(([t,x,y])=>L(x,y*KB,`<i>${t}</i>`,{s:14,a:"s"}));
L(890,457,"Z-score",{s:16.5});L(854,498.6,"−4",{s:16.5});L(892,498.6,"0",{s:16.5});L(923.5,498.6,"4",{s:16.5});
[["Cdh1",177],["Krt18",545],["Epcam",927.4],["Tgfb1",1291]].forEach(([t,x])=>L(x,583,`<i>${t}</i>`,{s:16.5}));
[22,388,776,1137].forEach(x=>L(x,710,"UMAP 2",{s:13.5,r:-90}));
[[78,164,264],[442,522.6,627],[838.5,935.8,1024],[1194.6,1288.4,1380.7]].forEach(([a,b,c])=>{L(a,812,"<i>KPPC</i>",{s:17});L(b,811,"UMAP 1",{s:13.5});L(c,812,"<i>KPPCN</i>",{s:17});});
L(10,985,"Expression, au",{s:16.5,r:-90});
[["Epithelial",71],["pEMT",166.8],["EMT1",249],["EMT2",333],["EMT3",413],["myCAF1",495],["iCAF1",576],["Epithelial",690],["pEMT",772.8],["EMT1",849.4],["EMT2",930],["EMT3",1008],["Epithelial",1104],["pEMT",1187],["EMT1",1262.8],["EMT2",1344]].forEach(([t,x])=>L(x,1122.7,t,{s:16.5}));
L(1422,1124,"EMT3",{s:16.5});
[[89.7,889],[168.8,889],[336.8,881.7],[695,902.3],[774.4,900],[931,887.7],[1009,902.3],[1109.4,879.3],[1189.4,879.3]].forEach(([x,y])=>L(x,y+4,"*",{s:24}));
L(257.7,884,"<i>Tgfb1</i>",{s:16});L(848.3,891.7,"<i>Cldn4</i>",{s:16});L(1237.8,873.3,"<i>Vim</i>",{s:16});
L(430.8,873.3,"<i>KPPC</i>",{a:"s",s:16.5});L(430.8,894.3,"<i>KPPCN</i>",{a:"s",s:16.5});
L(336,1194.1,"Enrichment directionality",{s:17.4});L(266.7,1219,"<i>KPPCN</i>",{s:17.4});L(382.7,1219,"<i>KPPC</i>",{s:17.4});
[1254.3,1283.3,1312.2,1343.5,1370].forEach((y,i)=>L(75,y,epithelialTerms[i],{a:"s",s:17.4}));
[1449.1,1478.4,1510.6].forEach((y,i)=>L(75,y,pemtTerms[i],{a:"s",s:17.4}));
[1578.8,1614.6,1650.3,1686.1].forEach((y,i)=>L(75,y,emtTerms[i],{a:"s",s:17.4}));
L(46.7,1310.6,"Epithelial (cl.7)",{s:17.5,r:-90,w:"normal"});L(46.7,1475.2,"pEMT (cl.3)",{s:17.5,r:-90,w:"normal"});L(46.7,1631.8,"EMT (cl.6+8+14)",{s:17.5,r:-90,w:"normal"});
L(332.3,1743.5,"Normalized enrichment score",{s:17.4});
</script></body></html>
